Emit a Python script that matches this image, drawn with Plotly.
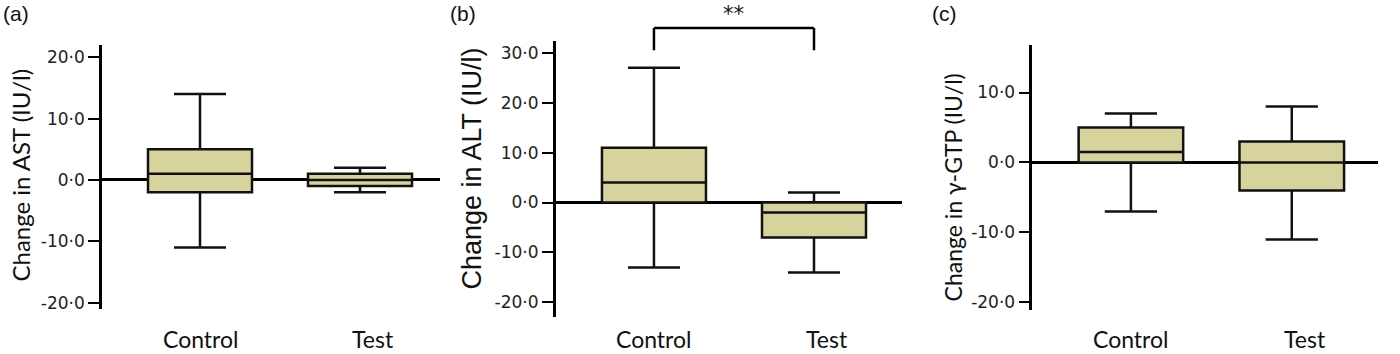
import plotly.graph_objects as go

W, H = 1400, 354

categories = ["Control", "Test"]

# Panel (a) AST
ast_max = [14, 2]
ast_q3 = [5, 1]
ast_med = [1, 0]
ast_q1 = [-2, -1]
ast_min = [-11, -2]

# Panel (b) ALT
alt_max = [27, 2]
alt_q3 = [11, 0]
alt_med = [4, -2]
alt_q1 = [0, -7]
alt_min = [-13, -14]

# Panel (c) gamma-GTP
gtp_max = [7, 8]
gtp_q3 = [5, 3]
gtp_med = [1.5, 0]
gtp_q1 = [0, -4]
gtp_min = [-7, -11]

ticks_a = [-20, -10, 0, 10, 20]
ticks_b = [-20, -10, 0, 10, 20, 30]
ticks_c = [-20, -10, 0, 10]

titles = ["Change in AST (IU/l)", "Change in ALT (IU/l)", "Change in γ-GTP (IU/l)"]
panel_labels = ["(a)", "(b)", "(c)"]
signif_text = "**"

FILL = "#d7d39c"
LINE = "#111111"


def tick_text(vals):
    return [f"{v:.1f}".replace(".", "·") for v in vals]


def px_x(p):
    return p / W


def px_y(p):
    return 1 - p / H


fig = go.Figure()

panels = [
    dict(mx=ast_max, q3=ast_q3, md=ast_med, q1=ast_q1, mn=ast_min),
    dict(mx=alt_max, q3=alt_q3, md=alt_med, q1=alt_q1, mn=alt_min),
    dict(mx=gtp_max, q3=gtp_q3, md=gtp_med, q1=gtp_q1, mn=gtp_min),
]

for i, p in enumerate(panels):
    suffix = "" if i == 0 else str(i + 1)
    fig.add_trace(go.Box(
        x=categories, q1=p["q1"], median=p["md"], q3=p["q3"],
        lowerfence=p["mn"], upperfence=p["mx"],
        width=0.65, whiskerwidth=0.5, boxpoints=False,
        fillcolor=FILL, line=dict(color=LINE, width=2.5),
        xaxis="x" + suffix, yaxis="y" + suffix, showlegend=False,
        hoverinfo="skip",
    ))

# layout geometry (pixels)
xdom = [(102, 440), (555.7, 901.7), (1032.3, 1378)]
ydom = [(45, 312), (41.7, 320), (45, 312.7)]
xranges = [[-0.6125, 1.5], [-0.614, 1.548], [-0.613, 1.536]]
yranges = [[-21.1, 22.06], [-23.0, 32.3], [-21.1, 16.85]]
tickvals = [ticks_a, ticks_b, ticks_c]

layout = dict(
    width=W, height=H, margin=dict(l=0, r=0, t=0, b=0),
    plot_bgcolor="white", paper_bgcolor="white", showlegend=False,
)
for i in range(3):
    suffix = "" if i == 0 else str(i + 1)
    layout["xaxis" + suffix] = dict(
        domain=[px_x(xdom[i][0]), px_x(xdom[i][1])],
        type="category", categoryarray=categories, range=xranges[i],
        showline=False, showgrid=False, zeroline=False, showticklabels=False,
        ticks="", anchor="y" + suffix,
    )
    layout["yaxis" + suffix] = dict(
        domain=[px_y(ydom[i][1]), px_y(ydom[i][0])],
        range=yranges[i], showgrid=False,
        zeroline=True, zerolinecolor="black", zerolinewidth=2.5,
        showline=True, linecolor="black", linewidth=2.5,
        ticks="outside", ticklen=11, tickwidth=2, tickcolor="black",
        tickvals=tickvals[i], ticktext=tick_text(tickvals[i]),
        tickfont=dict(family="DejaVu Sans", size=17, color="#222222"),
        anchor="x" + suffix,
    )
fig.update_layout(**layout)

annotations = []
# y titles
title_pos = [(20, 177), (472, 170), (953, 189)]
title_fonts = [("Lato", 24), ("Liberation Sans", 27), ("Lato", 23)]
for i in range(3):
    annotations.append(dict(
        text=titles[i], textangle=-90, xref="paper", yref="paper",
        x=px_x(title_pos[i][0]), y=px_y(title_pos[i][1]),
        xanchor="center", yanchor="middle", showarrow=False,
        font=dict(family=title_fonts[i][0], size=title_fonts[i][1], color="#111111"),
    ))
# category labels
for i in range(3):
    suffix = "" if i == 0 else str(i + 1)
    for j, c in enumerate(categories):
        annotations.append(dict(
            text=c, xref="x" + suffix, yref="paper", x=c, y=px_y(342),
            xanchor="center", yanchor="middle", showarrow=False,
            xshift=0 if j == 0 else 13,
            font=dict(family="Lato", size=23, color="#111111"),
        ))
# panel labels
label_x = [1, 448, 930]
for i in range(3):
    annotations.append(dict(
        text=panel_labels[i], xref="paper", yref="paper",
        x=px_x(label_x[i]), y=px_y(14), xanchor="left", yanchor="middle",
        showarrow=False,
        font=dict(family="Liberation Sans", size=21, color="#111111"),
    ))
# significance
annotations.append(dict(
    text=signif_text, xref="x2", yref="paper", x=0.5, y=px_y(14),
    xanchor="center", yanchor="middle", showarrow=False,
    font=dict(family="DejaVu Sans", size=21, color="#111111"),
))
fig.update_layout(annotations=annotations)

# bracket between Control and Test in panel (b)
bracket = [
    dict(x0=0, x1=0, y0=px_y(50.7), y1=px_y(28.3)),
    dict(x0=0, x1=1, y0=px_y(28.3), y1=px_y(28.3)),
    dict(x0=1, x1=1, y0=px_y(28.3), y1=px_y(50.7)),
]
for b in bracket:
    fig.add_shape(type="line", xref="x2", yref="paper", line=dict(color="black", width=2.5), **b)

fig.write_html(
    "out.html",
    config={"displayModeBar": False},
    post_script="document.body.style.margin='0';document.body.style.overflow='hidden';",
)
